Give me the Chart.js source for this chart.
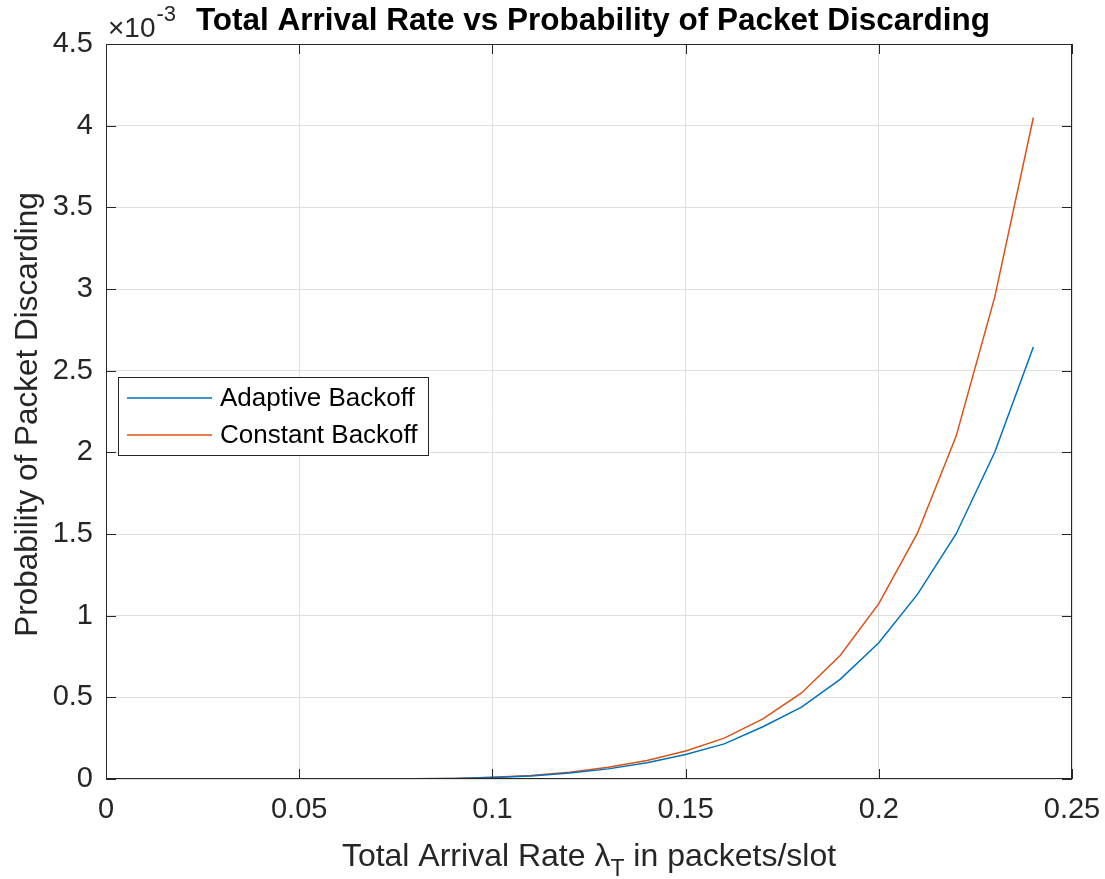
<!DOCTYPE html>
<html>
<head>
<meta charset="utf-8">
<script src="https://cdn.jsdelivr.net/npm/chart.js@4.4.1/dist/chart.umd.min.js"></script>
<style>
  html, body { margin: 0; padding: 0; background: #fff; }
  canvas { display: block; }
</style>
</head>
<body>
<canvas id="chart" width="1105" height="879"></canvas>
<script>
// arrival rate in packets/slot
const arrivalRate = [0, 0.01, 0.02, 0.03, 0.04, 0.05, 0.06, 0.07, 0.08, 0.09,
  0.10, 0.11, 0.12, 0.13, 0.14, 0.15, 0.16, 0.17, 0.18, 0.19,
  0.20, 0.21, 0.22, 0.23, 0.24];

// discard probability, in units of 1e-3
const adaptiveBackoff = [0, 0, 0, 0, 0, 0, 0, 0, 0.001, 0.003,
  0.009, 0.019, 0.036, 0.062, 0.099, 0.15, 0.215, 0.32, 0.44, 0.61,
  0.834, 1.13, 1.50, 2.0, 2.645];
const constantBackoff = [0, 0, 0, 0, 0, 0, 0, 0, 0.001, 0.003,
  0.010, 0.021, 0.042, 0.072, 0.113, 0.172, 0.25, 0.368, 0.527, 0.756,
  1.074, 1.505, 2.098, 2.95, 4.05];

const xTicks = [0, 0.05, 0.1, 0.15, 0.2, 0.25];
const yTicks = [0, 0.5, 1, 1.5, 2, 2.5, 3, 3.5, 4, 4.5];

const FONT = '"Liberation Sans", Arial, Helvetica, sans-serif';
const INK = '#262626';

const frame = {
  id: 'frame',
  afterDraw(chart) {
    const { ctx, chartArea: a, scales } = chart;
    const x = scales.x, y = scales.y;
    ctx.save();

    // axes box with inward ticks
    ctx.strokeStyle = INK;
    ctx.lineWidth = 1;
    ctx.strokeRect(a.left + 0.5, a.top + 0.5, a.right - a.left - 1, a.bottom - a.top - 1);
    ctx.beginPath();
    xTicks.forEach(v => {
      const px = Math.round(x.getPixelForValue(v)) + 0.5;
      ctx.moveTo(px, a.bottom); ctx.lineTo(px, a.bottom - 10);
      ctx.moveTo(px, a.top); ctx.lineTo(px, a.top + 10);
    });
    yTicks.forEach(v => {
      const py = Math.round(y.getPixelForValue(v)) + 0.5;
      ctx.moveTo(a.left, py); ctx.lineTo(a.left + 10, py);
      ctx.moveTo(a.right, py); ctx.lineTo(a.right - 10, py);
    });
    ctx.stroke();

    const cx = (a.left + a.right) / 2;

    // title
    ctx.fillStyle = '#000';
    ctx.font = 'bold 31.5px ' + FONT;
    ctx.textAlign = 'center';
    ctx.textBaseline = 'alphabetic';
    ctx.fillText('Total Arrival Rate vs Probability of Packet Discarding', cx + 4, 30);

    // exponent marker
    ctx.fillStyle = INK;
    ctx.textAlign = 'left';
    ctx.font = '28px ' + FONT;
    ctx.fillText('\u00d710', 108, 37);
    const w10 = ctx.measureText('\u00d710').width;
    ctx.font = '22px ' + FONT;
    ctx.fillText('-3', 108 + w10 + 1, 21);

    // x axis title with subscript
    const big = '32px ' + FONT, sub = '23px ' + FONT;
    const p1 = 'Total Arrival Rate \u03bb', p2 = 'T', p3 = ' in packets/slot';
    ctx.font = big; const w1 = ctx.measureText(p1).width, w3 = ctx.measureText(p3).width;
    ctx.font = sub; const w2 = ctx.measureText(p2).width;
    let sx = cx - (w1 + w2 + w3) / 2;
    const by = 866;
    ctx.font = big; ctx.fillText(p1, sx, by); sx += w1;
    ctx.font = sub; ctx.fillText(p2, sx, by + 10); sx += w2;
    ctx.font = big; ctx.fillText(p3, sx, by);

    // y axis title
    ctx.save();
    ctx.translate(37, (a.top + a.bottom) / 2 + 3);
    ctx.rotate(-Math.PI / 2);
    ctx.textAlign = 'center';
    ctx.font = '31.5px ' + FONT;
    ctx.fillText('Probability of Packet Discarding', 0, 0);
    ctx.restore();

    // legend
    const lg = { left: 118, top: 377, right: 428, bottom: 455 };
    ctx.fillStyle = '#fff';
    ctx.fillRect(lg.left, lg.top, lg.right - lg.left, lg.bottom - lg.top);
    ctx.strokeStyle = INK;
    ctx.strokeRect(lg.left + 0.5, lg.top + 0.5, lg.right - lg.left, lg.bottom - lg.top);
    ctx.font = '26px ' + FONT;
    ctx.textBaseline = 'middle';
    chart.data.datasets.forEach((ds, i) => {
      const ly = 398 + i * 37;
      ctx.strokeStyle = ds.borderColor;
      ctx.lineWidth = 1.5;
      ctx.beginPath();
      ctx.moveTo(127, ly); ctx.lineTo(212, ly);
      ctx.stroke();
      ctx.fillStyle = '#000';
      ctx.fillText(ds.label, 220, ly + 1);
    });

    ctx.restore();
  }
};

new Chart(document.getElementById('chart'), {
  type: 'line',
  data: {
    datasets: [
      {
        label: 'Adaptive Backoff',
        data: arrivalRate.map((v, i) => ({ x: v, y: adaptiveBackoff[i] })),
        borderColor: '#0072BD',
        borderWidth: 1.5,
        pointRadius: 0,
        tension: 0,
        fill: false
      },
      {
        label: 'Constant Backoff',
        data: arrivalRate.map((v, i) => ({ x: v, y: constantBackoff[i] })),
        borderColor: '#D95319',
        borderWidth: 1.5,
        pointRadius: 0,
        tension: 0,
        fill: false
      }
    ]
  },
  options: {
    responsive: false,
    animation: false,
    devicePixelRatio: 1,
    layout: { padding: { left: 0, right: 33, top: 44, bottom: 0 } },
    plugins: {
      legend: { display: false },
      title: { display: false },
      tooltip: { enabled: false }
    },
    scales: {
      x: {
        type: 'linear',
        min: 0,
        max: 0.25,
        afterBuildTicks: s => { s.ticks = xTicks.map(v => ({ value: v })); },
        afterFit: s => { s.height = 100; s.paddingLeft = 0; s.paddingRight = 0; },
        grid: { color: '#e0e0e0', drawTicks: false },
        border: { display: false },
        ticks: {
          color: INK,
          padding: 14,
          maxRotation: 0,
          font: { family: FONT, size: 29 },
          callback: v => String(v)
        }
      },
      y: {
        type: 'linear',
        min: 0,
        max: 4.5,
        afterBuildTicks: s => { s.ticks = yTicks.map(v => ({ value: v })); },
        afterFit: s => { s.width = 106; s.paddingTop = 0; s.paddingBottom = 0; },
        grid: { color: '#e0e0e0', drawTicks: false },
        border: { display: false },
        ticks: {
          color: INK,
          padding: 13,
          font: { family: FONT, size: 29 },
          callback: v => String(v)
        }
      }
    }
  },
  plugins: [frame]
});
</script>
</body>
</html>
